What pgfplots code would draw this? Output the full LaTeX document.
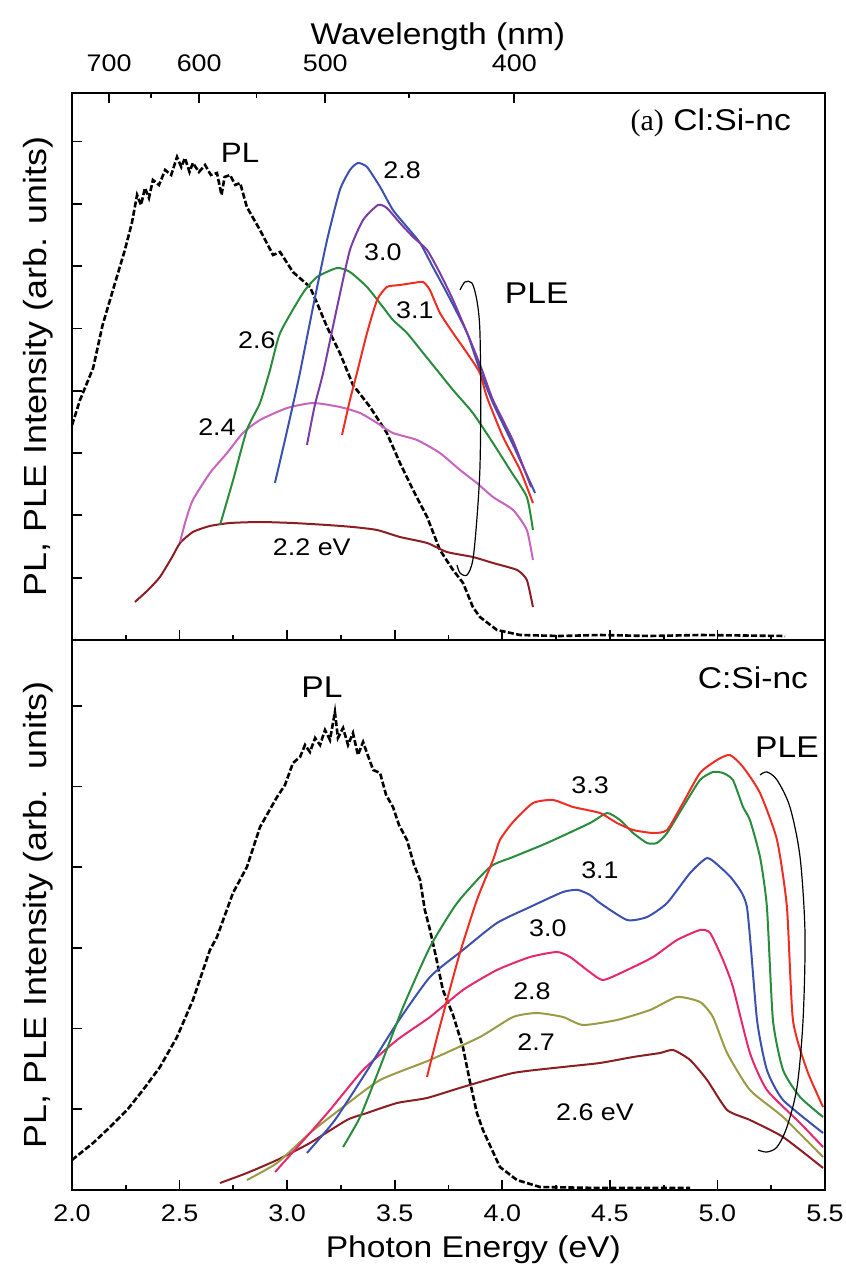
\documentclass[border=0pt]{standalone}
\usepackage{pgfplots}
\pgfplotsset{compat=1.18}
\usepackage{fontspec}
\setmainfont[FakeStretch=1.12]{Liberation Sans}
\newfontfamily\seriffont{Liberation Serif}

\definecolor{cmaroon}{RGB}{140,30,35}
\definecolor{corchid}{RGB}{200,100,190}
\definecolor{cgreen}{RGB}{40,140,60}
\definecolor{cblue}{RGB}{60,80,175}
\definecolor{cpurple}{RGB}{125,60,165}
\definecolor{cred}{RGB}{240,45,35}
\definecolor{cpink}{RGB}{230,40,110}
\definecolor{colive}{RGB}{155,155,70}

\newcommand\annfont{\fontsize{12}{14}\selectfont}
\newcommand\bigfont{\fontsize{15}{18}\selectfont}

\begin{document}
\begin{tikzpicture}
\pgfplotsset{
  panel/.style={
    scale only axis, width=376.5pt,
    axis line style={line width=1.1pt},
    tick style={line width=0.9pt, black},
    major tick length=5pt, minor tick length=2.5pt,
    ytick pos=left, yticklabels={},
    /pgf/number format/assume math mode=true,
    tick label style={font=\fontsize{12}{14}\selectfont},
    label style={font=\fontsize{15}{18}\selectfont},
    ylabel style={at={(axis description cs:-0.045,0.5)},rotate=0,anchor=center,font=\fontsize{16}{18}\selectfont},
    clip=false,
  },
  pl/.style={black, line width=1.3pt, dash pattern=on 3pt off 1.2pt},
  ple/.style={line width=1pt, smooth, tension=0.35},
}
\path[use as bounding box] (-36pt,-40.5pt) rectangle (387pt,595pt);

%================ bottom panel (C:Si-nc) ================
\begin{axis}[panel, at={(0,0)}, anchor=south west, height=275pt,
  xmin=2, xmax=5.5, ymin=0, ymax=55,
  xtick={2,2.5,3,3.5,4,4.5,5,5.5}, minor x tick num=1, xtick pos=lower,
  xticklabel style={/pgf/number format/fixed,/pgf/number format/fixed zerofill,/pgf/number format/precision=1, yshift=-4pt},
  ytick={8.07,16.14,24.21,32.28,40.35,48.42},
  xlabel={Photon Energy (eV)},
  xlabel style={at={(axis description cs:0.533,0)},anchor=base,yshift=-34pt},
  ylabel={PL, PLE Intensity (arb.~~units)},
]
% PL
\addplot[pl] coordinates {(2.0,3.0)(2.098,4.7)(2.177,6.3)(2.256,8.0)(2.330,10.0)(2.409,12.3)(2.488,15.3)(2.562,19.0)(2.641,24.0)(2.674,25.3)(2.748,29.7)(2.813,32.3)(2.874,36.3)(2.953,39.3)(2.990,40.5)(3.027,42.7)(3.060,43.3)(3.083,44.5)(3.106,43.8)(3.130,45.2)(3.153,44.5)(3.176,46.0)(3.199,45.0)(3.222,47.8)(3.236,45.2)(3.260,46.2)(3.283,44.5)(3.306,45.7)(3.329,43.5)(3.353,44.8)(3.371,43.7)(3.400,42.0)(3.432,41.7)(3.460,39.5)(3.492,38.3)(3.520,36.5)(3.557,35.0)(3.590,32.5)(3.618,31.0)(3.640,28.0)(3.664,26.0)(3.690,23.5)(3.724,20.0)(3.771,17.5)(3.817,14.3)(3.850,10.8)(3.882,7.7)(3.910,6.0)(3.989,2.3)(4.068,1.0)(4.175,0.3)(4.454,0.2)(4.873,0.2)};
% 2.6 eV
\addplot[ple, cmaroon] coordinates {(2.688,0.7)(2.813,1.7)(2.953,3.0)(3.106,4.7)(3.278,7.0)(3.371,7.7)(3.511,8.7)(3.650,9.2)(3.817,10.3)(4.050,11.7)(4.282,12.3)(4.454,12.7)(4.608,13.3)(4.733,13.7)(4.794,14.0)(4.873,13.0)(4.952,11.0)(5.045,8.0)(5.151,7.0)(5.305,5.3)(5.491,2.2)};
% 2.7
\addplot[ple, colive] coordinates {(2.813,1.0)(2.953,2.7)(3.106,5.7)(3.260,8.3)(3.432,11.0)(3.664,13.0)(3.896,15.3)(4.050,17.3)(4.161,17.7)(4.282,17.3)(4.375,16.5)(4.533,17.0)(4.687,18.0)(4.812,19.3)(4.919,18.8)(4.979,17.3)(5.045,13.7)(5.151,10.0)(5.305,7.3)(5.491,3.3)};
% 2.8
\addplot[ple, cpink] coordinates {(2.944,1.8)(3.106,5.7)(3.199,8.0)(3.353,12.0)(3.511,15.0)(3.664,17.3)(3.817,20.0)(3.975,22.0)(4.129,23.3)(4.254,23.8)(4.315,23.3)(4.394,22.0)(4.468,21.0)(4.580,22.0)(4.701,23.3)(4.812,25.0)(4.919,26.0)(4.966,25.7)(5.026,23.0)(5.072,20.3)(5.151,13.7)(5.230,10.0)(5.384,6.7)(5.491,4.3)};
% 3.0
\addplot[ple, cblue] coordinates {(3.092,3.7)(3.185,6.0)(3.232,7.3)(3.353,11.3)(3.511,16.7)(3.664,21.3)(3.817,24.0)(3.975,26.7)(4.129,28.3)(4.282,29.8)(4.352,30.0)(4.408,29.5)(4.454,28.7)(4.580,27.0)(4.673,27.3)(4.766,28.7)(4.873,31.7)(4.952,33.2)(5.012,32.3)(5.072,31.0)(5.137,28.3)(5.184,17.0)(5.230,12.0)(5.305,9.0)(5.491,5.7)};
% 3.1
\addplot[ple, cgreen] coordinates {(3.260,4.3)(3.339,7.3)(3.432,12.3)(3.539,18.3)(3.664,24.3)(3.790,28.7)(3.943,32.3)(4.050,33.3)(4.208,34.7)(4.408,36.7)(4.487,37.7)(4.547,37.0)(4.608,35.7)(4.673,34.7)(4.719,34.7)(4.766,35.7)(4.840,38.3)(4.919,41.0)(4.979,41.8)(5.026,41.7)(5.072,41.0)(5.119,38.3)(5.151,37.0)(5.198,33.3)(5.230,28.3)(5.258,17.0)(5.305,12.0)(5.384,9.3)(5.491,7.3)};
% 3.3
\addplot[ple, cred] coordinates {(3.650,11.3)(3.697,15.3)(3.743,19.0)(3.803,23.7)(3.882,29.0)(3.957,33.0)(3.989,35.0)(4.050,36.8)(4.143,38.7)(4.236,39.0)(4.329,38.3)(4.454,37.7)(4.533,36.7)(4.608,36.0)(4.701,35.7)(4.766,36.0)(4.840,38.7)(4.919,41.7)(4.998,43.0)(5.058,43.5)(5.119,42.3)(5.198,39.7)(5.277,35.0)(5.323,28.3)(5.351,17.0)(5.416,12.0)(5.491,8.3)};
% bracket
\addplot[black, line width=0.6pt, smooth] coordinates {(5.189,4.0)(5.230,3.8)(5.277,4.3)(5.323,6.3)(5.370,10.3)(5.398,17.0)(5.407,25.7)(5.384,33.3)(5.337,38.3)(5.277,41.0)(5.230,41.8)(5.198,41.5)};
\node[font=\bigfont] at (axis cs:3.162,50.3) {PL};
\node[font=\bigfont, anchor=east] at (axis cs:5.454,51.2) {C:Si-nc};
\node[font=\bigfont] at (axis cs:5.323,44.3) {PLE};
\node[font=\annfont] at (axis cs:4.408,40.5) {3.3};
\node[font=\annfont] at (axis cs:4.454,32.0) {3.1};
\node[font=\annfont] at (axis cs:4.212,26.2) {3.0};
\node[font=\annfont] at (axis cs:4.138,19.9) {2.8};
\node[font=\annfont] at (axis cs:4.157,14.8) {2.7};
\node[font=\annfont] at (axis cs:4.431,7.8) {2.6 eV};
\end{axis}

% upward ticks on the top edge of the bottom panel
\begin{axis}[at={(0,0)}, anchor=south west, scale only axis, width=376.5pt, height=275pt,
  xmin=2, xmax=5.5, ymin=0, ymax=1,
  axis x line*=top, hide y axis, tick align=outside,
  xtick={2,2.5,3,3.5,4,4.5,5,5.5}, minor x tick num=1, xticklabels={},
  major tick length=5pt, minor tick length=2.5pt,
  tick style={line width=0.9pt, black}, axis line style={line width=1.1pt,-}]
\addplot[draw=none] coordinates {(2,0)};
\end{axis}

%================ top panel (Cl:Si-nc) ================
\begin{axis}[panel, at={(0,275pt)}, anchor=south west, height=273.5pt,
  xmin=1.6497, xmax=4.1186, ymin=0, ymax=54.7,
  xtick={1.7714,2.0667,2.48,3.1}, xticklabels={700,600,500,400},
  minor xtick={1.9077,2.2545,2.7556},
  xtick pos=upper, xticklabel pos=upper,
  xticklabel style={yshift=7pt},
  ytick={6.23,12.46,18.69,24.92,31.15,37.38,43.61,49.84},
  xlabel={Wavelength (nm)},
  xlabel style={at={(axis description cs:0.486,1)},anchor=base,yshift=24pt},
  ylabel={PL, PLE Intensity (arb. units)},
]
% PL
\addplot[pl] coordinates {(1.650,21.5)(1.676,24.0)(1.719,27.2)(1.750,31.5)(1.784,35.0)(1.823,39.0)(1.846,41.7)(1.863,44.5)(1.876,43.5)(1.889,45.2)(1.902,44.2)(1.915,46.0)(1.935,45.5)(1.955,47.0)(1.975,46.5)(1.994,48.3)(2.008,47.3)(2.020,48.2)(2.035,46.8)(2.046,47.7)(2.066,46.8)(2.086,47.5)(2.105,46.5)(2.125,46.7)(2.140,44.5)(2.150,46.3)(2.168,46.5)(2.185,45.5)(2.201,45.7)(2.223,43.3)(2.266,41.0)(2.309,38.5)(2.332,38.8)(2.374,36.8)(2.430,35.3)(2.453,33.7)(2.486,31.3)(2.528,28.7)(2.571,25.5)(2.627,23.3)(2.682,20.7)(2.725,17.7)(2.768,15.0)(2.814,12.3)(2.856,9.0)(2.899,7.0)(2.932,5.7)(2.964,3.3)(2.987,2.3)(3.043,1.0)(3.119,0.5)(3.250,0.4)(3.381,0.5)(3.545,0.4)(3.709,0.5)(3.988,0.4)};
% 2.2 eV
\addplot[ple, cmaroon] coordinates {(1.856,3.8)(1.899,5.0)(1.938,6.3)(1.978,8.3)(2.004,9.7)(2.046,10.8)(2.102,11.4)(2.168,11.7)(2.266,11.8)(2.374,11.7)(2.486,11.5)(2.571,11.3)(2.650,11.0)(2.725,10.3)(2.814,9.7)(2.879,8.8)(2.964,8.3)(3.030,7.7)(3.109,7.0)(3.141,6.0)(3.161,3.3)};
% 2.4
\addplot[ple, corchid] coordinates {(2.004,9.8)(2.023,12.0)(2.046,14.0)(2.102,16.7)(2.158,18.7)(2.210,20.7)(2.266,22.0)(2.355,23.2)(2.440,23.7)(2.528,23.3)(2.594,22.7)(2.650,21.7)(2.702,20.7)(2.781,20.0)(2.856,18.7)(2.922,17.0)(2.977,15.7)(3.030,14.3)(3.096,13.0)(3.141,11.0)(3.161,8.0)};
% 2.6
\addplot[ple, cgreen] coordinates {(2.135,11.5)(2.178,16.0)(2.223,21.0)(2.266,23.7)(2.299,27.0)(2.332,30.7)(2.407,34.7)(2.453,36.3)(2.519,37.2)(2.561,36.8)(2.617,35.3)(2.669,33.3)(2.702,32.0)(2.748,30.7)(2.801,28.7)(2.846,27.0)(2.899,25.0)(2.964,22.7)(3.030,19.7)(3.086,17.0)(3.141,14.3)(3.161,11.0)};
% 2.8
\addplot[ple, cblue] coordinates {(2.315,15.7)(2.348,20.0)(2.374,23.5)(2.397,26.7)(2.440,33.3)(2.486,40.0)(2.528,45.0)(2.561,47.0)(2.587,47.7)(2.617,47.3)(2.660,45.3)(2.702,43.0)(2.748,41.3)(2.791,39.7)(2.833,37.3)(2.879,34.7)(2.945,30.7)(2.987,27.0)(3.030,23.7)(3.096,19.5)(3.168,14.7)};
% 3.0
\addplot[ple, cpurple] coordinates {(2.420,19.5)(2.446,23.5)(2.473,26.7)(2.519,33.3)(2.561,39.0)(2.604,42.0)(2.653,43.5)(2.682,43.2)(2.725,41.7)(2.768,40.3)(2.814,39.0)(2.856,36.7)(2.899,34.0)(2.955,30.0)(2.994,27.0)(3.030,24.0)(3.096,19.9)(3.155,15.3)};
% 3.1
\addplot[ple, cred] coordinates {(2.535,20.5)(2.561,24.0)(2.584,26.7)(2.617,30.7)(2.650,34.0)(2.682,35.3)(2.725,35.5)(2.768,35.7)(2.801,35.8)(2.823,35.0)(2.856,32.7)(2.899,30.7)(2.945,28.7)(2.987,26.7)(3.010,24.3)(3.063,20.3)(3.119,17.0)(3.161,13.7)};
% bracket
\addplot[black, line width=0.6pt, smooth] coordinates {(2.912,7.5)(2.922,6.7)(2.945,6.5)(2.964,8.0)(2.977,12.0)(2.987,17.0)(2.990,23.7)(2.987,31.0)(2.977,34.0)(2.961,35.7)(2.938,35.8)(2.922,35.0)};
\node[font=\fontsize{14}{16}\selectfont] at (axis cs:2.201,48.7) {PL};
\node[font=\annfont] at (axis cs:2.732,47.0) {2.8};
\node[font=\annfont] at (axis cs:2.669,38.8) {3.0};
\node[font=\annfont] at (axis cs:2.774,33.0) {3.1};
\node[font=\annfont] at (axis cs:2.256,30.0) {2.6};
\node[font=\annfont] at (axis cs:2.125,21.3) {2.4};
\node[font=\annfont] at (axis cs:2.436,9.3) {2.2 eV};
\node[font=\bigfont, anchor=west] at (axis cs:3.046,34.7) {PLE};
\node[font=\bigfont, anchor=east] at (axis cs:4.030,51.7) {{\seriffont (a)} Cl:Si-nc};
\end{axis}
\end{tikzpicture}
\end{document}
